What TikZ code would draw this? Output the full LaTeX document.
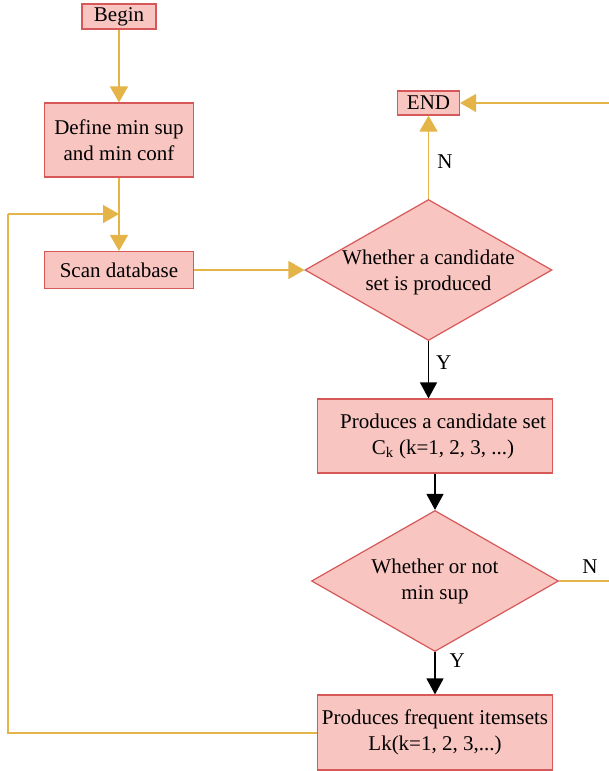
\documentclass[tikz,border=0pt]{standalone}
\usepackage{fontspec}
\setmainfont{Liberation Serif}
\usetikzlibrary{shapes.geometric,arrows.meta}
\definecolor{boxfill}{RGB}{248,197,193}
\definecolor{boxline}{RGB}{214,88,88}
\definecolor{flowy}{RGB}{228,180,72}
\begin{document}
\begin{tikzpicture}[x=1pt,y=-1pt,
  every node/.style={font=\fontsize{21}{26}\selectfont},
  box/.style={draw=boxline,fill=boxfill,line width=1.2pt,rectangle,inner sep=0pt,align=center},
  dia/.style={draw=boxline,fill=boxfill,line width=1.2pt,diamond,inner sep=0pt},
  lab/.style={inner sep=0pt,align=center},
  yarr/.style={draw=flowy,line width=1.5pt,-{Triangle[length=16pt,width=18pt]}},
  yline/.style={draw=flowy,line width=1.5pt},
  barr/.style={draw=black,line width=1.4pt,-{Triangle[length=16pt,width=17pt]}}]
\useasboundingbox (0,0) rectangle (609,771);
\node[box,minimum width=74pt,minimum height=25pt] (begin) at (119,16.5) {Begin};
\node[box,minimum width=149pt,minimum height=74pt] (define) at (119,140) {Define min sup\\and min conf};
\node[box,minimum width=149pt,minimum height=37pt] (scan) at (119,270) {Scan database};
\node[dia,minimum width=247pt,minimum height=141pt] (d1) at (428.5,270) {};
\node[lab] (d1t) at (428.5,272) {Whether a candidate\\set is produced};
\node[box,minimum width=62pt,minimum height=24pt] (end) at (428.5,103) {END};
\node[box,minimum width=235pt,minimum height=74pt] (cand) at (435,436) {\hspace*{16pt}Produces a candidate set\\\hspace*{16pt}C\textsubscript{k} (k=1, 2, 3, ...)};
\node[dia,minimum width=247pt,minimum height=141pt] (d2) at (435,581) {};
\node[lab] (d2t) at (435,581) {Whether or not\\min sup};
\node[box,minimum width=235pt,minimum height=75pt] (freq) at (435,732.5) {Produces frequent itemsets\\Lk(k=1, 2, 3,...)};
\coordinate (join) at (119,214);
\coordinate (loopa) at (8,733);
\coordinate (loopb) at (8,214);
\coordinate (rin) at (609,103);
\coordinate (rout) at (609,581);
\draw[yarr] (begin) -- (define);
\draw[yarr] (define) -- (scan);
\draw[yline] (freq.west |- loopa) -- (loopa) -- (loopb);
\draw[yarr] (loopb) -- (join);
\draw[yarr] (scan.east) -- (d1.west);
\draw[yarr] (d1.north) -- (end.south) node[lab,pos=0.45,right=8pt] (n1) {N};
\draw[yarr] (rin) -- (end.east);
\draw[barr] (d1.south) -- (d1.south |- cand.north) node[lab,pos=0.38,right=7pt] (y1) {Y};
\draw[barr] (cand.south) -- (d2.north);
\draw[yline] (d2.east) -- (rout);
\node[lab] (n2) at (590,567) {N};
\draw[barr] (d2.south) -- (freq.north) node[lab,pos=0.2,right=14pt] (y2) {Y};
\end{tikzpicture}
\end{document}
